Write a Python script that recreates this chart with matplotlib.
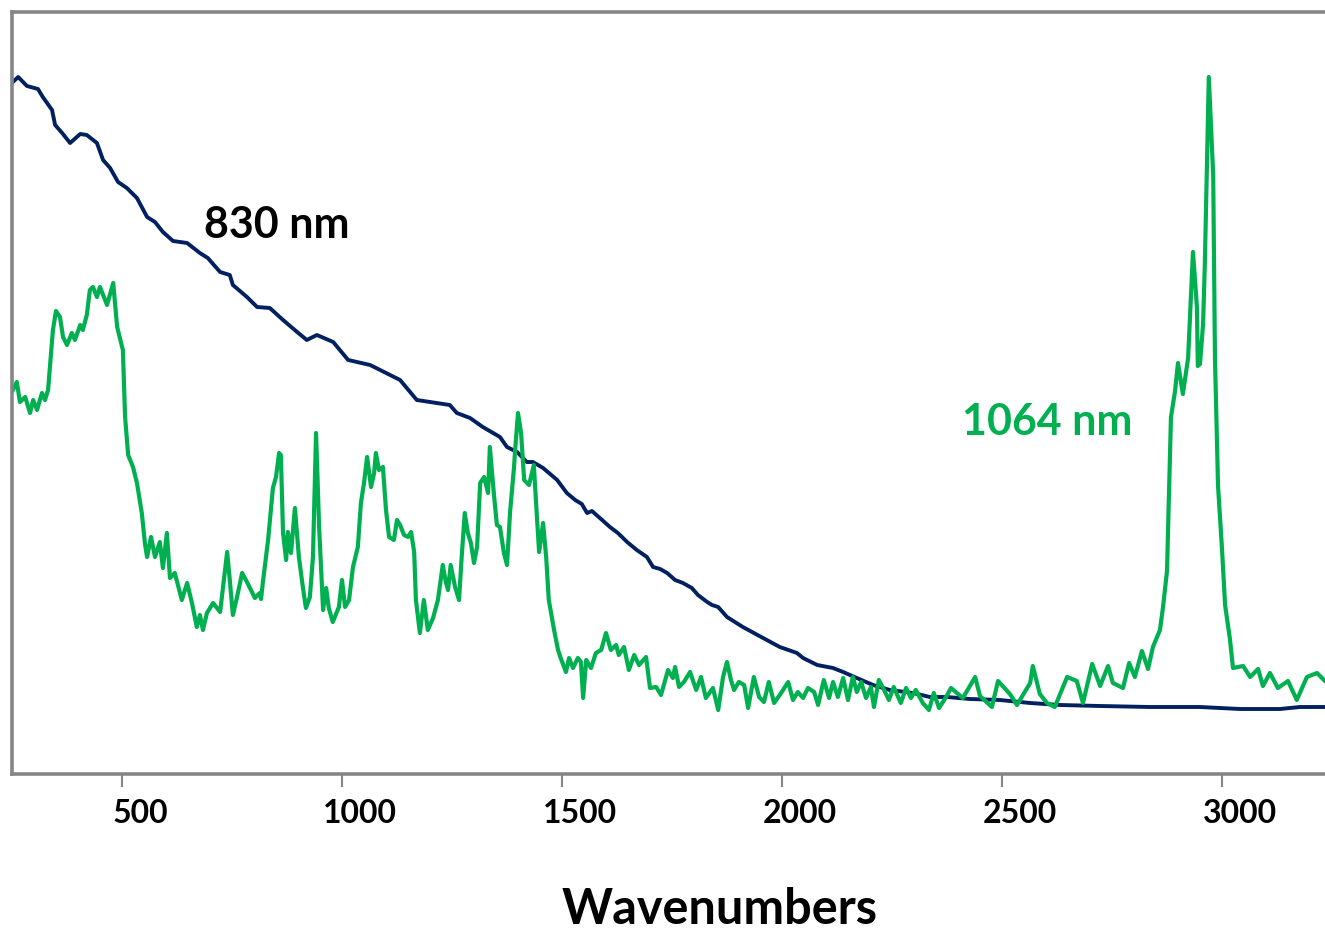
import matplotlib
matplotlib.use("Agg")
import matplotlib.pyplot as plt
from matplotlib.transforms import ScaledTranslation

# 830 nm excitation spectrum (wavenumber, intensity a.u.)
wn_830 = [252, 264, 284, 309, 320, 341, 348, 364, 382, 405, 420, 443, 457, 473, 491,
          511, 534, 557, 575, 593, 616, 648, 677, 695, 723, 745, 752, 784, 807, 836,
          866, 898, 920, 943, 980, 1014, 1064, 1132, 1170, 1245, 1261, 1291, 1320,
          1359, 1375, 1398, 1420, 1434, 1457, 1489, 1511, 1530, 1545, 1557, 1568,
          1586, 1609, 1627, 1648, 1670, 1693, 1707, 1723, 1739, 1757, 1775, 1795,
          1809, 1830, 1841, 1855,
          1875, 1911, 1957, 1995, 2034, 2048, 2080, 2116, 2139, 2170, 2207,
          2245, 2298, 2336, 2375, 2427, 2495, 2564, 2632, 2723, 2836, 2950, 3041,
          3132, 3177, 3234]
int_830 = [692, 697, 688, 685, 677, 664, 649, 641, 631, 640, 639, 631, 614, 606, 592,
           586, 576, 557, 552, 542, 533, 531, 521, 516, 502, 499, 489, 477, 467, 466,
           454, 442, 434, 439, 432, 414, 409, 394, 374, 369, 361, 356, 347,
           337, 327, 322, 312, 312, 306, 294, 281, 274, 270, 261, 263,
           256, 247, 241, 232, 224, 217, 207, 205, 201, 194, 191, 186,
           179, 172, 169, 167,
           157, 147, 136, 127, 121, 116, 109, 106, 102, 96, 89,
           84, 81, 77, 77, 75, 74, 71, 69, 68, 67, 67, 65,
           65, 67, 67]

# 1064 nm excitation spectrum
wn_1064 = [252, 261, 268, 280, 291, 298, 307, 318, 325, 332, 336, 343, 350, 359, 366,
           375, 386, 393, 405, 411, 420, 427, 434, 443, 450, 466, 480, 489, 502, 507,
           514, 525, 534, 545, 552, 557, 566, 575, 586, 593, 602, 609, 620, 636, 648,
           659, 670, 677, 684, 693, 707, 723, 739, 745, 752, 761, 773, 784,
           802, 813, 816, 820, 832, 843, 850, 857, 861, 866, 873, 877, 884, 893, 902,
           911, 918, 927, 934, 941, 948, 957, 964, 970, 979, 993, 1000, 1007, 1016,
           1025, 1036, 1043, 1050, 1057, 1066, 1073, 1077, 1084, 1093, 1100, 1107,
           1118, 1125, 1132, 1141, 1150, 1157, 1164, 1168, 1177, 1186, 1195, 1207,
           1218, 1229, 1236, 1241, 1247, 1257, 1266, 1272, 1279, 1286, 1293, 1300,
           1307, 1314, 1323, 1332, 1336, 1345, 1352, 1359, 1368, 1375, 1382, 1391,
           1393, 1400, 1407, 1414, 1425, 1436, 1443, 1448, 1457, 1464, 1470, 1482,
           1491, 1497, 1509, 1516, 1525, 1536, 1543, 1548, 1555, 1566, 1577, 1589,
           1600, 1611, 1623, 1629, 1641, 1652, 1664, 1675, 1691, 1700, 1714, 1725,
           1741, 1752, 1757, 1766, 1777, 1791, 1805, 1816, 1827, 1843, 1855, 1866,
           1875, 1884, 1891, 1902, 1914, 1923, 1936, 1948, 1959, 1970, 1982, 1998,
           2014, 2025, 2036, 2048, 2059, 2073, 2082, 2095, 2107, 2116, 2127, 2139,
           2150, 2161, 2170, 2180, 2191, 2202, 2209, 2220, 2232, 2243, 2254, 2270,
           2282, 2293, 2304, 2320, 2334, 2345, 2357, 2373, 2384,
           2411, 2439, 2450, 2477, 2491, 2518, 2534, 2564, 2570, 2586, 2602, 2620,
           2648, 2670, 2684, 2705, 2723, 2741, 2752, 2775, 2789, 2802, 2818, 2832,
           2843, 2859, 2866, 2875, 2880, 2884, 2893, 2900, 2911, 2923, 2934, 2943,
           2945, 2950, 2957, 2961, 2970, 2980, 2984, 2991, 3000, 3007, 3018, 3025,
           3048, 3064, 3082, 3093, 3109, 3127, 3150, 3170, 3193, 3216, 3234]
int_1064 = [384, 392, 372, 377, 361, 374, 364, 381, 374, 384, 406, 444, 463, 457, 437,
            429, 441, 434, 449, 444, 459, 484, 487, 477, 487, 469, 491, 447, 424, 357,
            319, 307, 291, 261, 231, 217, 237, 217, 232, 206, 241, 196, 201, 174, 191,
            171, 147, 159, 144, 161, 171, 162, 222, 194, 159, 176, 201, 192,
            176, 181, 175, 191, 234, 286, 297, 321, 319, 241, 214, 242, 221, 266, 217,
            187, 166, 177, 217, 341, 247, 164, 186, 166, 152, 167, 194, 167, 174,
            207, 227, 271, 291, 317, 287, 301, 321, 304, 307, 264, 237,
            234, 254, 249, 239, 237, 242, 222, 174, 141, 174, 144, 156,
            174, 209, 192, 184, 209, 187, 174, 217, 261, 241, 231, 211,
            227, 291, 297, 281, 327, 281, 249, 247, 221, 209, 262, 307,
            321, 361, 341, 294, 289, 309, 257, 222, 251, 217, 174, 144,
            124, 116, 102, 116, 106, 116, 112, 76, 114, 106, 121, 124,
            141, 124, 129, 119, 127, 104, 119, 109, 117, 86, 87, 79,
            104, 96, 107, 87, 92, 102, 84, 97, 76, 86, 64, 97,
            112, 94, 84, 92, 89, 66, 97, 77, 72, 92, 71, 81,
            92, 74, 82, 76, 86, 82, 69, 94, 76, 92, 77, 96,
            74, 97, 82, 92, 76, 87, 67, 94, 84, 74, 87, 71,
            86, 76, 84, 71, 64, 81, 66, 77, 86,
            76, 97, 78, 67, 93, 80, 69, 91, 108, 80, 71, 67,
            97, 93, 71, 110, 88, 108, 91, 86, 111, 97, 123, 105,
            127, 144, 167, 203, 288, 357, 382, 411, 380, 416, 522, 467,
            408, 410, 450, 510, 697, 599, 416, 288, 225, 169, 135, 106,
            108, 97, 105, 88, 101, 86, 93, 74, 97, 101, 93]

xticks = [500, 1000, 1500, 2000, 2500, 3000]
font = ['Lato', 'DejaVu Sans']

fig = plt.figure(figsize=(13.25, 9.33), dpi=100)
ax = fig.add_axes([12 / 1325, 159 / 933, 1342 / 1325, 762 / 933])

ax.plot(wn_830, int_830, color='#002060', lw=2.8, solid_joinstyle='round')
ax.plot(wn_1064, int_1064, color='#00B050', lw=3.0, solid_joinstyle='round')

ax.set_xlim(250, 3300)
ax.set_ylim(0, 762)
ax.set_yticks([])
ax.set_xticks(xticks)
ax.set_xticklabels([str(t) for t in xticks], fontsize=23, fontweight='bold', family=font)
ax.tick_params(axis='x', length=9, width=1.5, color='#868686', pad=9)
# labels sit a little to the right of their ticks in the original
for lab in ax.get_xticklabels():
    lab.set_transform(lab.get_transform() + ScaledTranslation(0.18, 0, fig.dpi_scale_trans))

for side in ['left', 'top', 'bottom']:
    ax.spines[side].set_color('#868686')
    ax.spines[side].set_linewidth(2.6)
ax.spines['right'].set_visible(False)

fig.text(277 / 1325, 1 - 225 / 933, '830 nm', fontsize=31, fontweight='bold',
         color='black', ha='center', va='center', family=font)
fig.text(1047 / 1325, 1 - 422 / 933, '1064 nm', fontsize=31, fontweight='bold',
         color='#00B050', ha='center', va='center', family=font)
fig.text(720 / 1325, 1 - 910 / 933, 'Wavenumbers', fontsize=35, fontweight='bold',
         ha='center', va='center', family=font)

fig.savefig('out.png', dpi=100)
